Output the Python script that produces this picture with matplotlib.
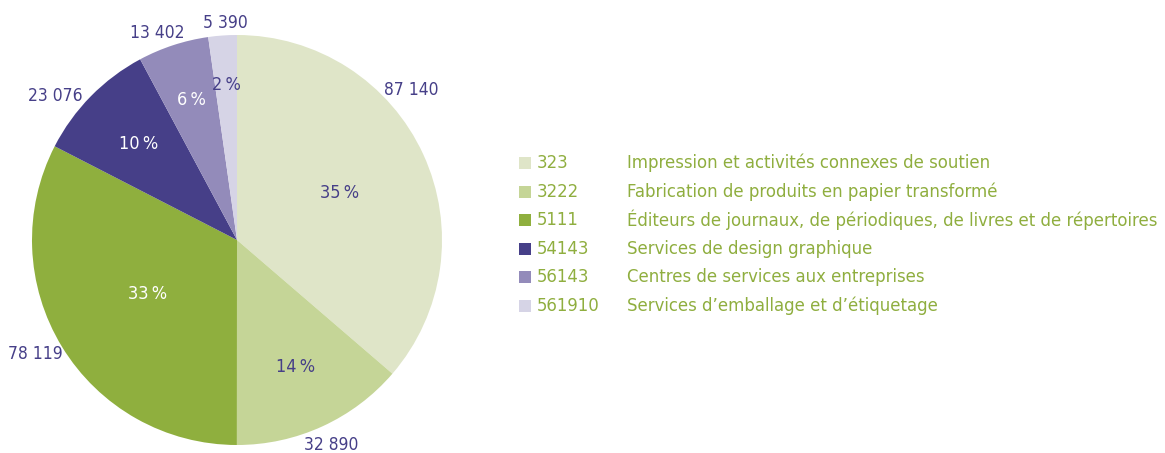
import numpy as np
import matplotlib
matplotlib.use('Agg')
from matplotlib import pyplot as plt
from matplotlib.patches import Rectangle

plt.rcParams['font.family'] = ['DejaVu Sans']
plt.rcParams['font.stretch'] = 'condensed'

# data
codes = ['323', '3222', '5111', '54143', '56143', '561910']
names = ['Impression et activités connexes de soutien',
         'Fabrication de produits en papier transformé',
         'Éditeurs de journaux, de périodiques, de livres et de répertoires',
         'Services de design graphique',
         'Centres de services aux entreprises',
         'Services d\u2019emballage et d\u2019étiquetage']
values = [87140, 32890, 78119, 23076, 13402, 5390]
value_labels = ['87 140', '32 890', '78 119', '23 076', '13 402', '5 390']
pct_labels = ['35\u202f%', '14\u202f%', '33\u202f%', '10\u202f%', '6\u202f%', '2\u202f%']

colors = ['#dfe5c8', '#c5d597', '#8faf3e', '#463f88', '#938bba', '#d6d4e6']
pct_colors = ['#463f88', '#463f88', 'white', 'white', 'white', '#463f88']
purple = '#463f88'
green = '#8fae3f'

# layout tweaks for labels
pct_dist = [0.55, 0.68, 0.51, 0.67, 0.72, 0.76]
lab_dist = [1.12, 1.10, 1.13, 1.13, 1.08, 1.06]
lab_shift = [16, 0, -2, 6, 3, -1]   # degrees

W, H = 1165, 453
fig = plt.figure(figsize=(W / 100, H / 100), dpi=100)
ax = fig.add_axes([32 / W, 1 - 445 / H, 410 / W, 410 / H])
wedges, _ = ax.pie(values, colors=colors, startangle=90, counterclock=False,
                   radius=1, wedgeprops=dict(linewidth=0))
ax.set_xlim(-1, 1)
ax.set_ylim(-1, 1)
ax.set_aspect('equal')
ax.axis('off')

for i, w in enumerate(wedges):
    mid = np.deg2rad((w.theta1 + w.theta2) / 2)
    ax.text(pct_dist[i] * np.cos(mid), pct_dist[i] * np.sin(mid), pct_labels[i],
            ha='center', va='center', fontsize=13, color=pct_colors[i])
    a = mid + np.deg2rad(lab_shift[i])
    ax.text(lab_dist[i] * np.cos(a), lab_dist[i] * np.sin(a), value_labels[i],
            ha='center', va='center', fontsize=12.5, color=purple, clip_on=False)

# legend
y0 = 163
for i in range(len(codes)):
    y = y0 + i * 28.6
    fig.patches.append(Rectangle((519 / W, 1 - (y + 6) / H), 12 / W, 12 / H,
                                 transform=fig.transFigure, color=colors[i],
                                 linewidth=0))
    fig.text(537 / W, 1 - y / H, codes[i], ha='left', va='center',
             fontsize=13.2, color=green)
    fig.text(627 / W, 1 - y / H, names[i], ha='left', va='center',
             fontsize=13.2, color=green)

fig.savefig('out.png', dpi=100)
